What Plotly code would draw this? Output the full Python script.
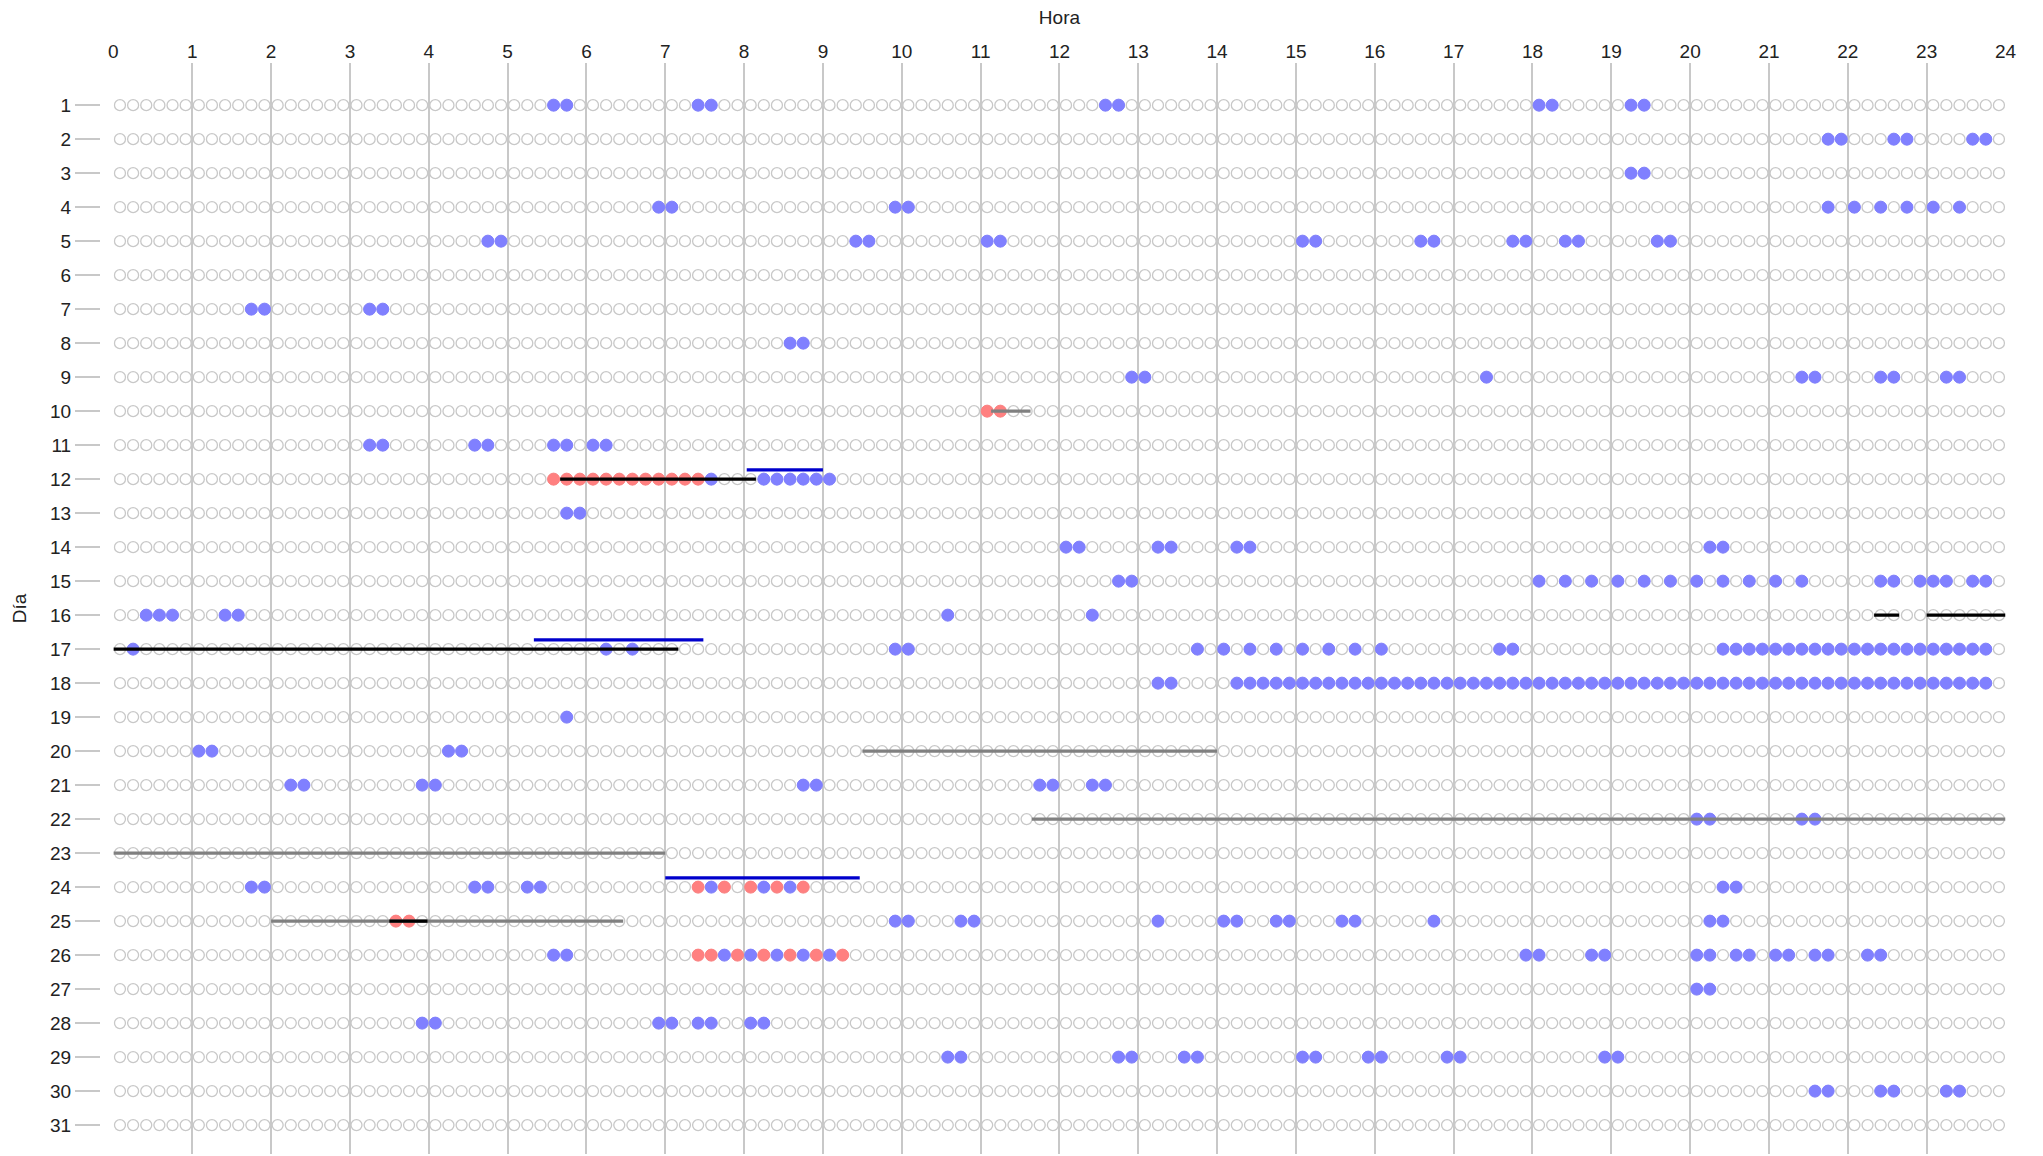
"""
Calendario de eventos por día y hora (franjas de 10 minutos).
"""

import plotly.graph_objects as go

# ─────────────────────────────────────────────────────────────────────────────
# Datos
# ─────────────────────────────────────────────────────────────────────────────

DAYS = list(range(1, 32))
HOURS = list(range(0, 25))
SLOT_MIN = 10          # cada círculo = una franja de 10 minutos
SLOTS_PER_DAY = 144

# inicio de cada franja marcada en azul, una cadena por día (1..31)
blue_times = [
    "05:30 05:40 07:20 07:30 12:30 12:40 18:00 18:10 19:10 19:20",
    "21:40 21:50 22:30 22:40 23:30 23:40",
    "19:10 19:20",
    "06:50 07:00 09:50 10:00 21:40 22:00 22:20 22:40 23:00 23:20",
    "04:40 04:50 09:20 09:30 11:00 11:10 15:00 15:10 16:30 16:40 17:40 17:50 18:20 18:30 19:30 19:40",
    "",
    "01:40 01:50 03:10 03:20",
    "08:30 08:40",
    "12:50 13:00 17:20 21:20 21:30 22:20 22:30 23:10 23:20",
    "",
    "03:10 03:20 04:30 04:40 05:30 05:40 06:00 06:10",
    "07:30 08:10 08:20 08:30 08:40 08:50 09:00",
    "05:40 05:50",
    "12:00 12:10 13:10 13:20 14:10 14:20 20:10 20:20",
    "12:40 12:50 18:00 18:20 18:40 19:00 19:20 19:40 20:00 20:20 20:40 21:00 21:20 "
    "22:20 22:30 22:50 23:00 23:10 23:30 23:40",
    "00:20 00:30 00:40 01:20 01:30 10:30 12:20",
    "00:10 06:10 06:30 09:50 10:00 13:40 14:00 14:20 14:40 15:00 15:20 15:40 16:00 17:30 17:40 "
    "20:20 20:30 20:40 20:50 21:00 21:10 21:20 21:30 21:40 21:50 22:00 22:10 22:20 22:30 22:40 "
    "22:50 23:00 23:10 23:20 23:30 23:40",
    "13:10 13:20 14:10 14:20 14:30 14:40 14:50 15:00 15:10 15:20 15:30 15:40 15:50 "
    "16:00 16:10 16:20 16:30 16:40 16:50 17:00 17:10 17:20 17:30 17:40 17:50 "
    "18:00 18:10 18:20 18:30 18:40 18:50 19:00 19:10 19:20 19:30 19:40 19:50 "
    "20:00 20:10 20:20 20:30 20:40 20:50 21:00 21:10 21:20 21:30 21:40 21:50 "
    "22:00 22:10 22:20 22:30 22:40 22:50 23:00 23:10 23:20 23:30 23:40",
    "05:40",
    "01:00 01:10 04:10 04:20",
    "02:10 02:20 03:50 04:00 08:40 08:50 11:40 11:50 12:20 12:30",
    "20:00 20:10 21:20 21:30",
    "",
    "01:40 01:50 04:30 04:40 05:10 05:20 07:30 08:10 08:30 20:20 20:30",
    "09:50 10:00 10:40 10:50 13:10 14:00 14:10 14:40 14:50 15:30 15:40 16:40 20:10 20:20",
    "05:30 05:40 07:40 08:00 08:20 08:40 09:00 17:50 18:00 18:40 18:50 20:00 20:10 20:30 20:40 "
    "21:00 21:10 21:30 21:40 22:10 22:20",
    "20:00 20:10",
    "03:50 04:00 06:50 07:00 07:20 07:30 08:00 08:10",
    "10:30 10:40 12:40 12:50 13:30 13:40 15:00 15:10 15:50 16:00 16:50 17:00 18:50 19:00",
    "21:30 21:40 22:20 22:30 23:10 23:20",
    "",
]

# franjas marcadas en rojo
red_days = [10, 12, 24, 25, 26]
red_times = [
    "11:00 11:10",
    "05:30 05:40 05:50 06:00 06:10 06:20 06:30 06:40 06:50 07:00 07:10 07:20",
    "07:20 07:40 08:00 08:20 08:40",
    "03:30 03:40",
    "07:20 07:30 07:50 08:10 08:30 08:50 09:10",
]

# intervalos (barras horizontales)
seg_day = [10, 20, 22, 23, 25, 12, 16, 16, 17, 25, 12, 17, 24]
seg_start = ["11:08", "09:30", "11:39", "00:00", "02:00",
             "05:40", "22:20", "23:00", "00:00", "03:30",
             "08:02", "05:20", "07:00"]
seg_end = ["11:38", "14:00", "24:00", "07:00", "06:28",
           "08:09", "22:39", "24:00", "07:10", "03:59",
           "09:00", "07:29", "09:28"]
seg_kind = ["gris", "gris", "gris", "gris", "gris",
            "negro", "negro", "negro", "negro", "negro",
            "azul", "azul", "azul"]

SEG_STYLE = {
    "gris":  dict(color="#808080", offset=0.0),
    "negro": dict(color="#000000", offset=0.0),
    "azul":  dict(color="#0000cc", offset=-0.27),
}

FONT = "Liberation Sans, Arial, sans-serif"


def to_hours(t: str) -> float:
    h, m = t.split(":")
    return int(h) + int(m) / 60


def slot_center(t: str) -> float:
    return to_hours(t) + SLOT_MIN / 120


# ─────────────────────────────────────────────────────────────────────────────
# Figura
# ─────────────────────────────────────────────────────────────────────────────

fig = go.Figure()

# cuadrícula de franjas vacías
gx, gy = [], []
for d in DAYS:
    for s in range(SLOTS_PER_DAY):
        gx.append((s + 0.5) * SLOT_MIN / 60)
        gy.append(d)
fig.add_trace(go.Scatter(
    x=gx, y=gy, mode="markers", hoverinfo="skip",
    marker=dict(size=11, color="rgba(255,255,255,0)",
                line=dict(color="#c8c8c8", width=1.3)),
))

bx, by = [], []
for d, times in zip(DAYS, blue_times):
    for t in times.split():
        bx.append(slot_center(t))
        by.append(d)
fig.add_trace(go.Scatter(
    x=bx, y=by, mode="markers", name="azul",
    marker=dict(size=12, color="#8080ff", line=dict(color="#8080ff", width=1)),
))

rx, ry = [], []
for d, times in zip(red_days, red_times):
    for t in times.split():
        rx.append(slot_center(t))
        ry.append(d)
fig.add_trace(go.Scatter(
    x=rx, y=ry, mode="markers", name="rojo",
    marker=dict(size=12, color="#ff8080", line=dict(color="#ff8080", width=1)),
))

for kind, style in SEG_STYLE.items():
    lx, ly = [], []
    for d, a, b, k in zip(seg_day, seg_start, seg_end, seg_kind):
        if k != kind:
            continue
        lx += [to_hours(a), to_hours(b), None]
        ly += [d + style["offset"], d + style["offset"], None]
    fig.add_trace(go.Scatter(
        x=lx, y=ly, mode="lines", name=kind,
        line=dict(color=style["color"], width=3.2),
    ))

W, H = 2043, 1156
fig.update_layout(
    width=W, height=H,
    margin=dict(l=0, r=0, t=63, b=2),
    paper_bgcolor="#ffffff",
    plot_bgcolor="#ffffff",
    showlegend=False,
    font=dict(family=FONT, size=19, color="#222222"),
    xaxis=dict(
        side="top", automargin=False,
        domain=[113.4 / W, 2005.5 / W],
        range=[0, 24],
        tickmode="array", tickvals=HOURS, ticktext=[str(h) for h in HOURS],
        showgrid=True, gridcolor="#c8c8c8", gridwidth=1.5,
        zeroline=False, showline=False, ticks="",
        title=dict(text="Hora", standoff=11, font=dict(size=19)),
    ),
    yaxis=dict(
        anchor="free", position=100 / W, automargin=False,
        range=[31.85, -0.24],
        tickmode="array", tickvals=DAYS, ticktext=[str(d) for d in DAYS],
        ticks="outside", ticklen=25, tickwidth=1.5, tickcolor="#c8c8c8",
        showgrid=False, zeroline=False, showline=False,
        title=dict(text="Día", standoff=17, font=dict(size=19)),
    ),
)

fig.write_html(
    "out.html",
    config={"displayModeBar": False},
    post_script="document.body.style.margin='0';",
)
